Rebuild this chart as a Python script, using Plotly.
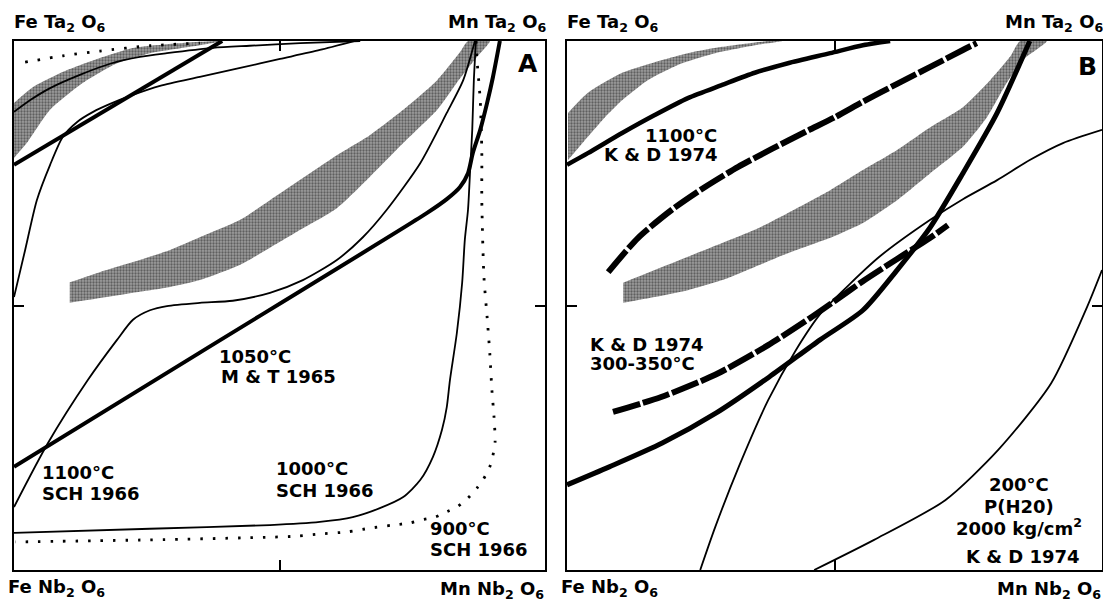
import plotly.graph_objects as go

# Coordinates: x = Mn/(Mn+Fe) (0 = Fe end, 1 = Mn end), y = Ta/(Ta+Nb) (0 = Nb end, 1 = Ta end)

# ---------------- Panel A ----------------
a_band_up_x = [0.105, 0.162, 0.224, 0.294, 0.350, 0.426, 0.482, 0.608, 0.670, 0.733, 0.797, 0.840, 0.855]
a_band_up_y = [0.544, 0.563, 0.582, 0.605, 0.629, 0.662, 0.699, 0.784, 0.822, 0.870, 0.926, 0.979, 1.000]
a_band_lo_x = [0.105, 0.162, 0.224, 0.294, 0.350, 0.426, 0.482, 0.539, 0.608, 0.670, 0.733, 0.797, 0.834, 0.872, 0.896]
a_band_lo_y = [0.505, 0.514, 0.524, 0.535, 0.548, 0.577, 0.609, 0.643, 0.684, 0.743, 0.807, 0.870, 0.921, 0.970, 1.000]

a_ulband_up_x = [0.000, 0.036, 0.100, 0.162, 0.224, 0.288, 0.379]
a_ulband_up_y = [0.883, 0.913, 0.945, 0.968, 0.987, 0.994, 1.000]
a_ulband_lo_x = [0.000, 0.024, 0.068, 0.130, 0.194, 0.256, 0.350, 0.392]
a_ulband_lo_y = [0.779, 0.807, 0.870, 0.921, 0.958, 0.977, 0.992, 1.000]

a_mt_lo_x = [0.000, 0.350, 0.778, 0.815, 0.840, 0.855, 0.864, 0.878, 0.891, 0.902, 0.915]
a_mt_lo_y = [0.195, 0.411, 0.675, 0.701, 0.724, 0.750, 0.788, 0.832, 0.883, 0.932, 1.000]
a_mt_up_x = [0.000, 0.392]
a_mt_up_y = [0.766, 1.000]

a_s1100_lo_x = [0.000, 0.064, 0.139, 0.194, 0.224, 0.256, 0.288, 0.350, 0.412, 0.482, 0.544, 0.608, 0.657, 0.702, 0.765, 0.815, 0.846, 0.868]
a_s1100_lo_y = [0.119, 0.240, 0.359, 0.435, 0.473, 0.491, 0.499, 0.505, 0.509, 0.524, 0.548, 0.586, 0.629, 0.681, 0.769, 0.864, 0.926, 1.000]
a_s1100_up_x = [0.000, 0.021, 0.043, 0.068, 0.092, 0.119, 0.149, 0.181, 0.224, 0.275, 0.350, 0.426, 0.501, 0.576, 0.642]
a_s1100_up_y = [0.516, 0.605, 0.699, 0.766, 0.819, 0.847, 0.866, 0.881, 0.898, 0.915, 0.932, 0.949, 0.966, 0.983, 1.000]

a_s1000_up_x = [0.000, 0.030, 0.068, 0.124, 0.181, 0.237, 0.288, 0.375, 0.444, 0.539, 0.652]
a_s1000_up_y = [0.866, 0.888, 0.911, 0.936, 0.957, 0.970, 0.977, 0.987, 0.991, 0.996, 1.000]
a_s1000_lo_x = [0.870, 0.866, 0.863, 0.859, 0.855, 0.849, 0.844, 0.834, 0.821, 0.815, 0.806, 0.789, 0.765, 0.733, 0.689, 0.638, 0.576, 0.482, 0.256, 0.000]
a_s1000_lo_y = [1.000, 0.926, 0.832, 0.756, 0.681, 0.624, 0.543, 0.448, 0.359, 0.308, 0.265, 0.214, 0.170, 0.138, 0.117, 0.100, 0.091, 0.085, 0.078, 0.070]

a_s900_up_x = [0.021, 0.092, 0.162, 0.256, 0.350]
a_s900_up_y = [0.960, 0.972, 0.981, 0.991, 0.996]
a_s900_lo_x = [0.870, 0.872, 0.878, 0.881, 0.881, 0.885, 0.891, 0.896, 0.900, 0.904, 0.906, 0.902, 0.896, 0.883, 0.872, 0.855, 0.834, 0.815, 0.793, 0.768, 0.746, 0.714, 0.670, 0.627, 0.576, 0.533, 0.482, 0.256, 0.002]
a_s900_lo_y = [1.000, 0.964, 0.888, 0.790, 0.699, 0.554, 0.478, 0.410, 0.340, 0.289, 0.242, 0.217, 0.195, 0.170, 0.155, 0.136, 0.119, 0.110, 0.100, 0.095, 0.089, 0.085, 0.079, 0.072, 0.068, 0.064, 0.062, 0.057, 0.053]

# ---------------- Panel B ----------------
b_ulband_up_x = [0.002, 0.039, 0.103, 0.164, 0.226, 0.290, 0.376]
b_ulband_up_y = [0.864, 0.902, 0.940, 0.960, 0.977, 0.989, 1.000]
b_ulband_lo_x = [0.002, 0.039, 0.071, 0.103, 0.151, 0.215, 0.277, 0.351, 0.402]
b_ulband_lo_y = [0.775, 0.819, 0.856, 0.888, 0.926, 0.958, 0.977, 0.992, 1.000]

b_band_up_x = [0.105, 0.164, 0.226, 0.290, 0.351, 0.413, 0.492, 0.553, 0.617, 0.679, 0.740, 0.791, 0.828, 0.847]
b_band_up_y = [0.543, 0.567, 0.592, 0.618, 0.643, 0.675, 0.718, 0.756, 0.794, 0.837, 0.875, 0.926, 0.970, 1.000]
b_band_lo_x = [0.105, 0.164, 0.226, 0.290, 0.351, 0.413, 0.497, 0.553, 0.617, 0.679, 0.740, 0.785, 0.822, 0.852, 0.897]
b_band_lo_y = [0.505, 0.516, 0.529, 0.548, 0.573, 0.599, 0.630, 0.656, 0.699, 0.750, 0.800, 0.856, 0.921, 0.964, 1.000]

b_kd1100_x = [0.000, 0.039, 0.103, 0.164, 0.226, 0.290, 0.351, 0.413, 0.492, 0.553, 0.604]
b_kd1100_y = [0.766, 0.788, 0.826, 0.860, 0.892, 0.917, 0.940, 0.958, 0.977, 0.992, 1.000]

b_kd300_up_x = [0.077, 0.133, 0.196, 0.258, 0.320, 0.383, 0.445, 0.501, 0.553, 0.617, 0.679, 0.740, 0.766]
b_kd300_up_y = [0.563, 0.628, 0.681, 0.724, 0.762, 0.796, 0.828, 0.856, 0.885, 0.919, 0.951, 0.983, 0.996]
b_kd300_lo_x = [0.086, 0.176, 0.277, 0.376, 0.454, 0.501, 0.553, 0.617, 0.679, 0.712]
b_kd300_lo_y = [0.299, 0.327, 0.369, 0.425, 0.476, 0.509, 0.546, 0.588, 0.628, 0.652]

b_thick_x = [0.865, 0.804, 0.740, 0.679, 0.617, 0.553, 0.473, 0.378, 0.279, 0.178, 0.079, 0.000]
b_thick_y = [1.000, 0.864, 0.750, 0.648, 0.567, 0.491, 0.435, 0.365, 0.297, 0.240, 0.195, 0.161]

b_thin1_x = [0.249, 0.277, 0.321, 0.376, 0.428, 0.475, 0.529, 0.585, 0.679, 0.740, 0.804, 0.865, 0.927, 1.000]
b_thin1_y = [0.000, 0.081, 0.195, 0.321, 0.416, 0.486, 0.541, 0.593, 0.662, 0.701, 0.737, 0.775, 0.807, 0.832]

b_kd200_x = [0.462, 0.574, 0.707, 0.806, 0.905, 0.972, 1.000]
b_kd200_y = [0.000, 0.057, 0.132, 0.227, 0.353, 0.497, 0.567]

# page body has an 8px margin: figure pixel = screen pixel - OFF
OFF = 8
W, H = 1111 - OFF, 608 - OFF
XA = [(14 - OFF) / W, (545 - OFF) / W]
XB = [(567 - OFF) / W, (1102 - OFF) / W]
YD = [1 - (570 - OFF) / H, 1 - (41 - OFF) / H]

fig = go.Figure()
BAND_PAT = dict(shape=".", fgcolor="#222222", bgcolor="#9c9c9c", size=3, solidity=0.45)


def band(upx, upy, lox, loy, xa, ya):
    fig.add_trace(go.Scatter(
        x=list(upx) + list(lox)[::-1], y=list(upy) + list(loy)[::-1],
        mode="lines", fill="toself", line=dict(width=0, color="rgba(0,0,0,0)", shape="spline", smoothing=0.6),
        fillcolor="#8a8a8a", fillpattern=BAND_PAT,
        xaxis=xa, yaxis=ya, hoverinfo="skip", showlegend=False))


def curve(xs, ys, xa, ya, width, dash="solid"):
    fig.add_trace(go.Scatter(
        x=xs, y=ys, mode="lines",
        line=dict(color="black", width=width, dash=dash, shape="spline", smoothing=0.7),
        xaxis=xa, yaxis=ya, hoverinfo="skip", showlegend=False))


# Panel A
band(a_band_up_x, a_band_up_y, a_band_lo_x, a_band_lo_y, "x", "y")
band(a_ulband_up_x, a_ulband_up_y, a_ulband_lo_x, a_ulband_lo_y, "x", "y")
curve(a_s900_up_x, a_s900_up_y, "x", "y", 2.8, "2.5px,10px")
curve(a_s900_lo_x, a_s900_lo_y, "x", "y", 2.8, "2.5px,10px")
curve(a_s1000_up_x, a_s1000_up_y, "x", "y", 1.8)
curve(a_s1000_lo_x, a_s1000_lo_y, "x", "y", 1.8)
curve(a_s1100_up_x, a_s1100_up_y, "x", "y", 1.8)
curve(a_s1100_lo_x, a_s1100_lo_y, "x", "y", 1.8)
curve(a_mt_up_x, a_mt_up_y, "x", "y", 4)
curve(a_mt_lo_x, a_mt_lo_y, "x", "y", 4)

# Panel B
band(b_band_up_x, b_band_up_y, b_band_lo_x, b_band_lo_y, "x2", "y2")
band(b_ulband_up_x, b_ulband_up_y, b_ulband_lo_x, b_ulband_lo_y, "x2", "y2")
curve(b_thin1_x, b_thin1_y, "x2", "y2", 1.8)
curve(b_kd200_x, b_kd200_y, "x2", "y2", 1.8)
curve(b_kd1100_x, b_kd1100_y, "x2", "y2", 4.5)
curve(b_thick_x, b_thick_y, "x2", "y2", 5)
curve(b_kd300_up_x, b_kd300_up_y, "x2", "y2", 6, "28px,3px")
curve(b_kd300_lo_x, b_kd300_lo_y, "x2", "y2", 6, "28px,3px")

FONT = dict(family="DejaVu Sans", size=18, color="black", weight=700)
ann = []


def text(t, x, y, xr, yr, xanchor="left", yanchor="middle", size=18, xshift=0, yshift=0):
    f = dict(FONT)
    f["size"] = size
    ann.append(dict(text=t, x=x, y=y, xref=xr, yref=yr, xanchor=xanchor, yanchor=yanchor,
                    showarrow=False, font=f, xshift=xshift, yshift=yshift, borderpad=0))


# Panel A labels
text("1050°C", 0.384, 0.403, "x", "y")
text("M & T 1965", 0.388, 0.366, "x", "y")
text("1100°C", 0.051, 0.184, "x", "y")
text("SCH 1966", 0.051, 0.145, "x", "y")
text("1000°C", 0.492, 0.191, "x", "y")
text("SCH 1966", 0.492, 0.151, "x", "y")
text("900°C", 0.781, 0.078, "x", "y")
text("SCH 1966", 0.781, 0.038, "x", "y")
text("A", 0.968, 0.958, "x", "y", xanchor="center", size=25)

# Panel B labels
text("1100°C", 0.282, 0.821, "x2", "y2", xanchor="right")
text("K & D 1974", 0.282, 0.786, "x2", "y2", xanchor="right")
text("K & D 1974", 0.041, 0.427, "x2", "y2")
text("300-350°C", 0.041, 0.391, "x2", "y2")
text("200°C", 0.845, 0.161, "x2", "y2", xanchor="center")
text("P(H20)", 0.845, 0.120, "x2", "y2", xanchor="center")
text("2000 kg/cm<sup>2</sup>", 0.845, 0.081, "x2", "y2", xanchor="center")
text("K & D 1974", 0.852, 0.025, "x2", "y2", xanchor="center")
text("B", 0.972, 0.951, "x2", "y2", xanchor="center", size=25)

# Corner end-member labels
for xr, yr in (("x", "y"), ("x2", "y2")):
    text("Fe Ta<sub>2</sub> O<sub>6</sub>", 0, 1, xr, yr, xanchor="left", yanchor="bottom", size=18, yshift=5, xshift=-1)
    text("Mn Ta<sub>2</sub> O<sub>6</sub>", 1, 1, xr, yr, xanchor="right", yanchor="bottom", size=18, yshift=5, xshift=2)
    text("Fe Nb<sub>2</sub> O<sub>6</sub>", 0, 0, xr, yr, xanchor="left", yanchor="top", size=18, yshift=-5, xshift=-7)
    text("Mn Nb<sub>2</sub> O<sub>6</sub>", 1, 0, xr, yr, xanchor="right", yanchor="top", size=18, yshift=-7)

axis_common = dict(range=[0, 1], showgrid=False, zeroline=False, showline=True, linewidth=2,
                   linecolor="black", mirror="ticks", ticks="inside", ticklen=10, tickwidth=2,
                   tickcolor="black", tickvals=[0.5], showticklabels=False, fixedrange=True)

fig.update_layout(
    width=W, height=H, autosize=False,
    margin=dict(l=0, r=0, t=0, b=0),
    paper_bgcolor="white", plot_bgcolor="white",
    showlegend=False, annotations=ann,
    xaxis=dict(domain=XA, anchor="y", **axis_common),
    yaxis=dict(domain=YD, anchor="x", **axis_common),
    xaxis2=dict(domain=XB, anchor="y2", **axis_common),
    yaxis2=dict(domain=YD, anchor="x2", **axis_common),
)

fig.write_html("out.html")
